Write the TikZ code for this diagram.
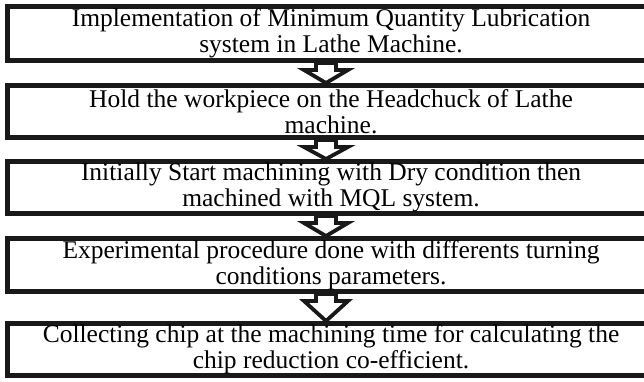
\documentclass[tikz,border=0pt]{standalone}
\usepackage{fontspec}
\setmainfont{Liberation Serif}
\usetikzlibrary{calc}
\pgfdeclarelayer{background}
\pgfsetlayers{background,main}
\begin{document}
\begin{tikzpicture}[x=1pt,y=1pt,
  stage/.style={draw=black!90, line width=5pt, minimum width=648pt,
    inner sep=0pt, align=center, font=\fontsize{25.5}{26}\selectfont},
  flowarrow/.style={draw=black!90, line width=3.8pt, fill=white, line join=miter}
]
\useasboundingbox (0,0) rectangle (644,-381);
\clip (0,0) rectangle (644,-381);

\node[stage, minimum height=54pt] (b1) at (331,-33.5)
  {Implementation of Minimum Quantity Lubrication\\system in Lathe Machine.};
\node[stage, minimum height=52pt] (b2) at (331,-111.5)
  {Hold the workpiece on the Headchuck of Lathe\\machine.};
\node[stage, minimum height=52pt] (b3) at (331,-187.5)
  {Initially Start machining with Dry condition then\\machined with MQL system.};
\node[stage, minimum height=53pt] (b4) at (331,-265)
  {Experimental procedure done with differents turning\\conditions parameters.};
\node[stage, minimum height=52pt] (b5) at (331,-349.5)
  {Collecting chip at the machining time for calculating the\\chip reduction co-efficient.};

% block arrow from the bottom of one stage to the top of the next,
% set slightly left of the box centre
\newcommand\stagelink[2]{%
  \draw[flowarrow] let \p1=($(#1.south)+(-5,0)$), \p2=($(#2.north)+(-5,0)$) in
    (\x1-10,\y1) -- (\x1-10,\y1-7) -- (\x1-22,\y1-7) -- (\x2,\y2)
    -- (\x1+22,\y1-7) -- (\x1+10,\y1-7) -- (\x1+10,\y1) -- cycle;}

\begin{pgfonlayer}{background}
  \stagelink{b1}{b2}
  \stagelink{b2}{b3}
  \stagelink{b3}{b4}
  \stagelink{b4}{b5}
\end{pgfonlayer}
\end{tikzpicture}
\end{document}
